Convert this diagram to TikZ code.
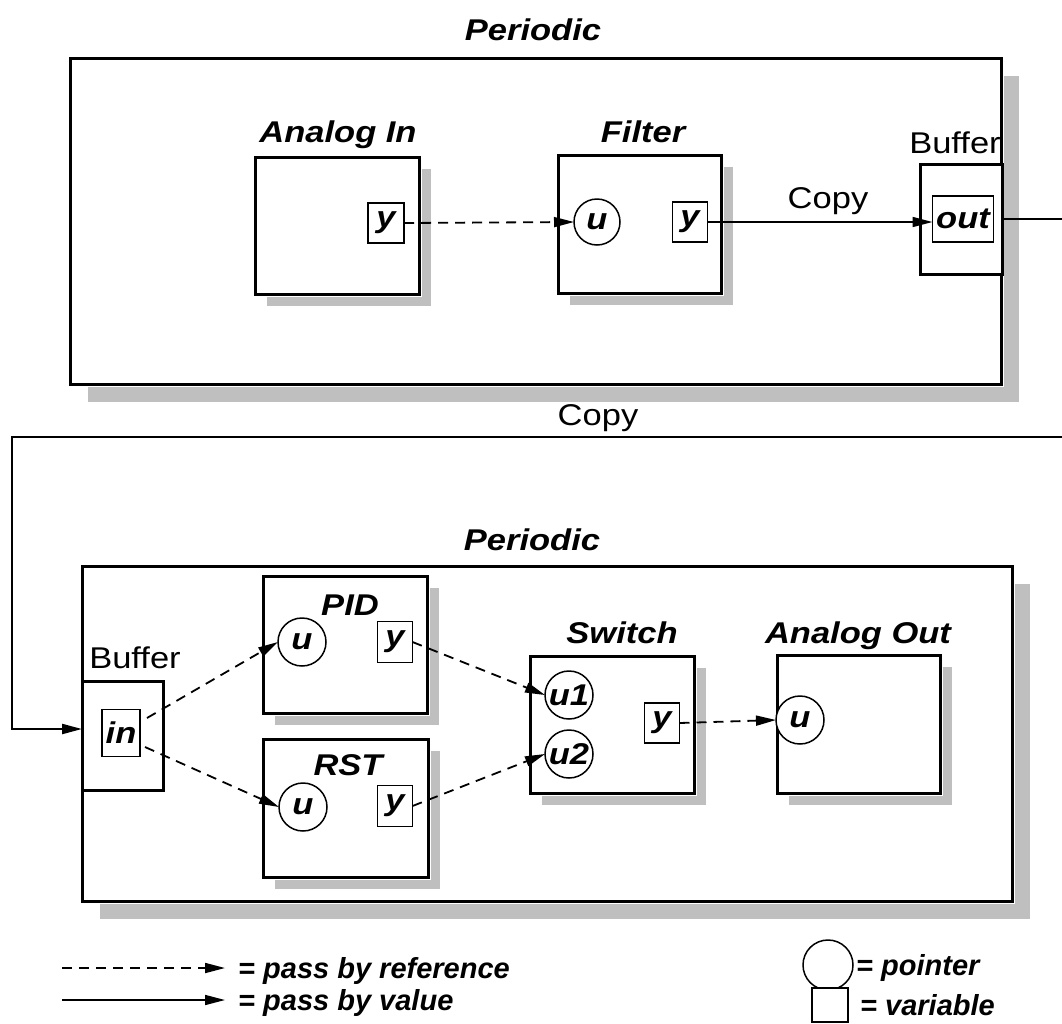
\documentclass[tikz,border=0pt]{standalone}
\usepackage{fontspec}
\setmainfont{Liberation Sans}[FakeStretch=1.15]
\newfontfamily\lgdfont{Liberation Sans}[FakeStretch=1.0]
\usetikzlibrary{arrows.meta}
\newcommand\mkblock[6]{%
  \ifdim #6pt>0pt
    \fill[shade] (#2+#6,#3+#6) rectangle (#4+#6,#5+#6);
    \fill[white] (#2-2,#3-2) rectangle (#4+3,#5+3);
  \fi
  \node[blk, minimum width={#4-#2}, minimum height={#5-#3}] (#1) at ({(#2+#4)/2},{(#3+#5)/2}) {};
}
\tikzset{
  ttl/.style={font=\fontsize{30}{31}\selectfont\bfseries\itshape, inner sep=0, anchor=base},
  lbl/.style={font=\fontsize{30}{31}\selectfont, inner sep=0, anchor=base},
  blk/.style={draw, line width=3pt, fill=white, inner sep=0, outer sep=0},
  var/.style={draw, rectangle, line width=1.5pt, fill=white, inner sep=0, outer sep=0,
    font=\fontsize{30}{31}\selectfont\bfseries\itshape},
  ptr/.style={draw, circle, line width=1.5pt, fill=white, inner sep=0, outer sep=0,
    minimum size=48pt, font=\fontsize{30}{31}\selectfont\bfseries\itshape},
  tipa/.style={-{Triangle[length=20pt,width=10pt]}},
  refarrow/.style={tipa, line width=1.8pt, dash pattern=on 10pt off 7pt},
  valarrow/.style={tipa, line width=1.6pt},
  loopline/.style={line width=2.2pt},
  shade/.style={fill=black!25},
  lgd/.style={font=\lgdfont\fontsize{29}{30}\selectfont\bfseries\itshape, anchor=base west, inner sep=0}
}
\begin{document}
\begin{tikzpicture}[x=1pt,y=-1pt]
\useasboundingbox (0,0) rectangle (1062,1023);

% ---------- top periodic ----------
\node[ttl] (per1) at (533,40) {Periodic};
\mkblock{top}{70}{58}{1001}{384}{18}
\mkblock{ain}{255}{157}{419}{294}{12}
\mkblock{filt}{558}{155}{721}{293}{12}
\mkblock{buf1}{920}{164}{1002}{274}{0}
\node[ttl] (tain) at (338,142) {Analog In};
\node[ttl] (tfilt) at (643,142) {Filter};
\node[lbl] (tbuf1) at (955,153) {Buffer};

\node[var, minimum width=36pt, minimum height=40pt] (ainy) at (386,223) {y};
\node[ptr, minimum size=46pt] (fu) at (597,222) {u};
\node[var, minimum width=35pt, minimum height=40pt] (fy) at (690,222) {y};
\node[var, minimum width=61pt, minimum height=46pt] (out) at (963,219) {out};

\draw[refarrow] (ainy.east) -- (fu.west);
\draw[valarrow] (fy.east) -- (out.west |- fy.east);
\node[lbl] (tcopy1) at (828,208) {Copy};

% ---------- copy loop ----------
\coordinate (c0) at (1062,219);
\coordinate (c1) at (1062,437);
\coordinate (c3) at (12,729);
\draw[loopline] (buf1.east |- c0) -- (c0);
\node[lbl] (tcopy2) at (598,425) {Copy};

% ---------- bottom periodic ----------
\node[ttl] (per2) at (532,550) {Periodic};
\mkblock{bot}{82}{566}{1012}{901}{18}
\mkblock{pid}{263}{576}{427}{713}{12}
\mkblock{rst}{263}{739}{428}{877}{12}
\mkblock{sw}{530}{656}{694}{793}{12}
\mkblock{aout}{777}{655}{940}{793}{12}
\mkblock{buf2}{82}{681}{163}{790}{0}

\node[ttl] (tpid) at (350,615) {PID};
\node[ttl] (trst) at (348,775) {RST};
\node[ttl] (tsw) at (622,643) {Switch};
\node[ttl] (taout) at (858,643) {Analog Out};
\node[lbl] (tbuf2) at (135,668) {Buffer};

\node[var, minimum width=38pt, minimum height=47pt] (in) at (121,733) {in};
\node[ptr] (pidu) at (302,642) {u};
\node[var, minimum width=35pt, minimum height=41pt] (pidy) at (395,642) {y};
\node[ptr] (rstu) at (303,807) {u};
\node[var, minimum width=35pt, minimum height=41pt] (rsty) at (395,806) {y};
\node[ptr] (u1) at (569,695) {u1};
\node[ptr] (u2) at (569,754) {u2};
\node[var, minimum width=35pt, minimum height=40pt] (swy) at (662,723) {y};
\node[ptr] (aou) at (800,720) {u};

\draw[loopline, tipa] (c1) -| (c3) -- (c3 -| buf2.west);

\draw[refarrow] ([xshift=7pt,yshift=15pt]in.east) -- (pidu.west);
\draw[refarrow] ([xshift=5pt,yshift=-14pt]in.east) -- (rstu.west);
\draw[refarrow] (pidy.east) -- (u1.west);
\draw[refarrow] (rsty.east) -- (u2.west);
\draw[refarrow] (swy.east) -- (aou.west);

% ---------- legend ----------
\coordinate (l1s) at (62,968);
\coordinate (l1e) at (225,968);
\coordinate (l2s) at (62,1000);
\coordinate (l2e) at (225,1000);
\draw[refarrow] (l1s) -- (l1e);
\draw[valarrow] (l2s) -- (l2e);
\node[lgd] (lg1) at (238,978) {= pass by reference};
\node[lgd] (lg2) at (238,1010) {= pass by value};
\node[ptr, minimum size=50pt] (lgc) at (828,965) {};
\node[lgd] (lg3) at (856,975) {= pointer};
\node[var, minimum width=36pt, minimum height=34pt] (lgs) at (830,1005) {};
\node[lgd] (lg4) at (860,1015) {= variable};
\end{tikzpicture}
\end{document}
